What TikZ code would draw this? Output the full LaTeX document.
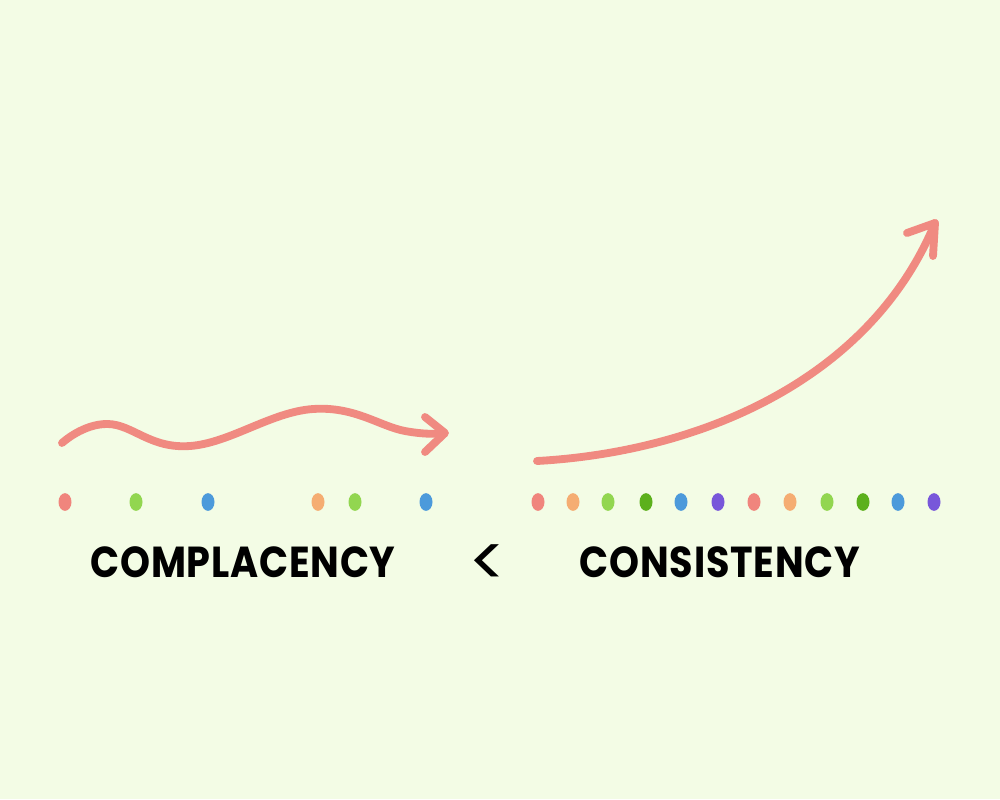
\documentclass[tikz,border=0pt]{standalone}
\usepackage{fontspec}
\newfontfamily\handfont{Poppins}[LetterSpace=2]
\usetikzlibrary{shapes.geometric}
\definecolor{bgc}{HTML}{F3FCE5}
\definecolor{arrowc}{HTML}{F08A81}
\definecolor{dred}{HTML}{F0857D}
\definecolor{dorange}{HTML}{F5AD72}
\definecolor{dgreen}{HTML}{92D650}
\definecolor{ddkgreen}{HTML}{5CB01C}
\definecolor{dblue}{HTML}{4C9ADB}
\definecolor{dpurple}{HTML}{7857DA}
\tikzset{
  stroke/.style={draw=arrowc, line width=0.235cm, line cap=round, line join=round},
  dot/.style={ellipse, minimum width=0.39cm, minimum height=0.53cm, inner sep=0pt, draw=none},
  label/.style={font=\handfont\bfseries\fontsize{37}{37}\selectfont, text=black, inner sep=0pt}
}
\begin{document}
\begin{tikzpicture}[x=0.03cm, y=-0.03cm]
\fill[bgc] (0,0) rectangle (1000,799);
\useasboundingbox (0,0) rectangle (1000,799);
% wavy arrow
\coordinate (wtip) at (445,433);
\draw[stroke] plot[smooth, tension=0.7] coordinates {(62,443) (108,424) (190,446) (313,409) (405,431) (443,433)};
\coordinate (wa1) at (425,417);
\coordinate (wa2) at (425,452);
\draw[stroke] (wa1) -- (wtip) -- (wa2);
% rising arrow
\coordinate (rs) at (537,461);
\coordinate (rtip) at (935,223);
\draw[stroke] (rs) .. controls (700,452) and (870,380) .. (rtip);
\coordinate (ra1) at (907,233);
\coordinate (ra2) at (933,256);
\draw[stroke] (ra1) -- (rtip) -- (ra2);
% left dots
\node[dot, fill=dred] (l1) at (65,502) {};
\node[dot, fill=dgreen] (l2) at (136,502) {};
\node[dot, fill=dblue] (l3) at (208,502) {};
\node[dot, fill=dorange] (l4) at (318,502) {};
\node[dot, fill=dgreen] (l5) at (355,502) {};
\node[dot, fill=dblue] (l6) at (426,502) {};
% right dots
\node[dot, fill=dred] (r1) at (538,502) {};
\node[dot, fill=dorange] (r2) at (573,502) {};
\node[dot, fill=dgreen] (r3) at (608,502) {};
\node[dot, fill=ddkgreen] (r4) at (646,502) {};
\node[dot, fill=dblue] (r5) at (681,502) {};
\node[dot, fill=dpurple] (r6) at (718,502) {};
\node[dot, fill=dred] (r7) at (754,502) {};
\node[dot, fill=dorange] (r8) at (790,502) {};
\node[dot, fill=dgreen] (r9) at (827,502) {};
\node[dot, fill=ddkgreen] (r10) at (863,502) {};
\node[dot, fill=dblue] (r11) at (898,502) {};
\node[dot, fill=dpurple] (r12) at (934,502) {};
% labels
\node[label, xscale=0.88] (t1) at (243,562) {COMPLACENCY};
\node[label, font=\handfont\mdseries\fontsize{60}{60}\selectfont] (lt) at (488,566) {<};
\node[label, xscale=0.88] (t2) at (720,562) {CONSISTENCY};
\end{tikzpicture}
\end{document}
